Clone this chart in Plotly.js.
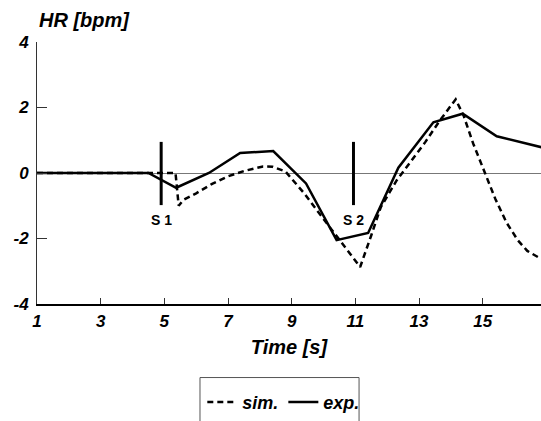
<!DOCTYPE html>
<html>
<head>
<meta charset="utf-8">
<script src="https://cdn.plot.ly/plotly-3.0.1.min.js"></script>
<style>html,body{margin:0;padding:0;background:#fff;}#chart{width:541px;height:421px;}</style>
</head>
<body>
<div id="chart"></div>
<script>
// Simulated heart-rate response (dashed)
var simTime = [1, 5.35, 5.45, 5.6, 6.0, 6.5, 7.0, 7.5, 8.1, 8.4, 8.8, 9.05, 9.4, 9.8, 10.45, 10.8, 11.15, 11.5, 11.8, 12.3, 12.7, 13.2, 13.65, 14.15, 14.4, 14.7, 15.07, 15.4, 15.75, 16.1, 16.4, 16.83];
var simHR   = [0, 0, -1.0, -0.82, -0.62, -0.33, -0.1, 0.06, 0.2, 0.19, 0.05, -0.22, -0.63, -1.15, -1.98, -2.4, -2.87, -1.9, -1.04, -0.22, 0.29, 0.95, 1.6, 2.25, 1.75, 0.9, 0.0, -0.8, -1.52, -2.05, -2.38, -2.62];
// Experimental heart-rate response (solid)
var expTime = [1, 4.5, 5.37, 6.4, 7.38, 8.42, 9.45, 10.41, 11.4, 12.35, 13.45, 14.37, 15.44, 17];
var expHR   = [0, 0, -0.45, 0.0, 0.61, 0.67, -0.32, -2.05, -1.83, 0.16, 1.55, 1.81, 1.12, 0.75];
// Stimulus markers
var stimTimes  = [4.9, 10.94];
var stimLabels = ['S 1', 'S 2'];
var stimTop = 0.95, stimBottom = -0.98, stimLabelY = -1.42;
// Axis ticks
var xTicks = [1, 3, 5, 7, 9, 11, 13, 15];
var yTicks = [-4, -2, 0, 2, 4];

var FONT = 'Liberation Sans, Arial, sans-serif';

var traces = [
  {x: simTime, y: simHR, name: 'sim.', mode: 'lines',
   line: {color: '#000', width: 2.5, dash: '6px,4px'}},
  {x: expTime, y: expHR, name: 'exp.', mode: 'lines',
   line: {color: '#000', width: 2.5}}
];

var shapes = stimTimes.map(function (t) {
  return {type: 'line', xref: 'x', yref: 'y', x0: t, x1: t, y0: stimBottom, y1: stimTop,
          line: {color: '#000', width: 3}};
});
shapes.push({type: 'rect', xref: 'paper', yref: 'paper', x0: 0.3234, x1: 0.639, y0: -0.2807, y1: -0.6,
             line: {color: '#555', width: 1}, fillcolor: 'rgba(0,0,0,0)'});

var annotations = stimTimes.map(function (t, i) {
  return {x: t, y: stimLabelY, xref: 'x', yref: 'y', text: stimLabels[i], showarrow: false,
          font: {family: FONT, size: 14, weight: 'bold', color: '#000'}};
});
annotations.push({x: 0, y: 1, xref: 'paper', yref: 'paper', xanchor: 'left', yanchor: 'bottom', yshift: 9,
                  text: 'HR [bpm]', showarrow: false,
                  font: {family: FONT, size: 20, weight: 'bold', style: 'italic', color: '#000'}});

var layout = {
  width: 541, height: 421,
  margin: {l: 37, r: 0, t: 42, b: 117},
  paper_bgcolor: '#fff', plot_bgcolor: '#fff',
  showlegend: true,
  legend: {orientation: 'h', x: 0.328, xanchor: 'left', y: -0.375, yanchor: 'middle',
           borderwidth: 0, bgcolor: 'rgba(0,0,0,0)', itemwidth: 30, entrywidth: 0,
           font: {family: FONT, size: 18, weight: 'bold', style: 'italic', color: '#000'}},
  xaxis: {range: [1, 16.83], tickvals: xTicks, ticktext: xTicks.map(String),
          ticks: 'inside', ticklen: 6, tickcolor: '#333', tickwidth: 1,
          showline: true, linecolor: '#000', linewidth: 1.5,
          showgrid: false, zeroline: false, ticklabelstandoff: 1,
          tickfont: {family: FONT, size: 17, weight: 'bold', style: 'italic', color: '#000'},
          title: {text: 'Time [s]', standoff: 10,
                  font: {family: FONT, size: 20, weight: 'bold', style: 'italic', color: '#000'}}},
  yaxis: {range: [-4, 4], tickvals: yTicks, ticktext: yTicks.map(String),
          ticks: 'inside', ticklen: 10, tickcolor: '#333', tickwidth: 1,
          showline: true, linecolor: '#333', linewidth: 1,
          showgrid: false, zeroline: true, zerolinecolor: '#777', zerolinewidth: 1,
          ticklabelstandoff: 4,
          tickfont: {family: FONT, size: 17, weight: 'bold', style: 'italic', color: '#000'}},
  shapes: shapes,
  annotations: annotations
};

Plotly.newPlot('chart', traces, layout, {displayModeBar: false, staticPlot: true});
</script>
</body>
</html>
